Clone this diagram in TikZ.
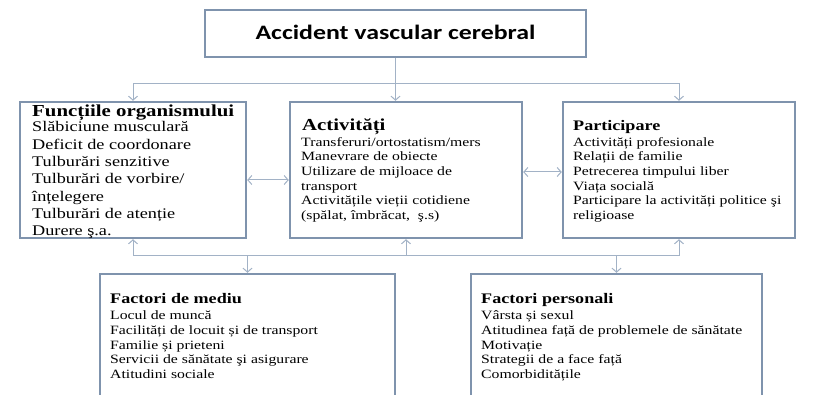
\documentclass[tikz,border=0pt]{standalone}
\usepackage{fontspec}
\setmainfont{Liberation Serif}[FakeStretch=1.24]
\newfontfamily\titlefont{Carlito}[FakeStretch=1.26]
\usetikzlibrary{arrows.meta}
\definecolor{boxc}{HTML}{7F93AD}
\definecolor{linec}{HTML}{A2B2C6}
\begin{document}
\begin{tikzpicture}[x=1pt,y=-1pt,
  box/.style={draw=boxc, line width=2.4pt, fill=white, inner sep=0pt},
  conn/.style={draw=linec, line width=1pt, -{Straight Barb[length=4pt,width=9pt]}},
  plain/.style={draw=linec, line width=1pt},
  conntwo/.style={draw=linec, line width=1pt, {Straight Barb[length=4pt,width=9pt]}-{Straight Barb[length=4pt,width=9pt]}},
  hdbig/.style={anchor=base west, inner sep=0pt, font=\fontsize{16.8}{20}\selectfont\bfseries},
  hdsmall/.style={anchor=base west, inner sep=0pt, font=\fontsize{14.6}{17}\selectfont\bfseries},
  bodybig/.style={anchor=north west, inner sep=0pt, align=left, font=\fontsize{14.7}{17.33}\selectfont},
  body/.style={anchor=north west, inner sep=0pt, align=left, font=\fontsize{12.7}{14.7}\selectfont}
]
\useasboundingbox (0,0) rectangle (824,395);
\clip (0,0) rectangle (824,395);
\fill[white] (0,0) rectangle (824,395);

% boxes
\node[box, minimum width=381pt, minimum height=47pt] (top) at (395.5,33.5) {};
\node[box, minimum width=226pt, minimum height=136pt] (fo) at (133,170) {};
\node[box, minimum width=232pt, minimum height=136pt] (act) at (406,170) {};
\node[box, minimum width=232pt, minimum height=136pt] (par) at (679,170) {};
\node[box, minimum width=295pt, minimum height=150pt] (med) at (247.5,349) {};
\node[box, minimum width=291pt, minimum height=150pt] (pers) at (616.5,349) {};

% title
\node[anchor=base, inner sep=0pt, font=\titlefont\bfseries\fontsize{20.5}{24}\selectfont] (title) at (395.5,40) {Accident vascular cerebral};

% Functiile
\node[hdbig] (foh) at (32,116.5) {Funcțiile organismului};
\node[bodybig] (fob) at (32,119.4) {\strut Slăbiciune musculară\\Deficit de coordonare\\Tulburări senzitive\\Tulburări de vorbire/\\înțelegere\\Tulburări de atenție\\Durere ş.a.};

% Activitati
\node[hdbig] (acth) at (302,131) {Activități};
\node[body] (actb) at (301,135.7) {\strut Transferuri/ortostatism/mers\\Manevrare de obiecte\\Utilizare de mijloace de\\transport\\Activitățile vieții cotidiene\\(spălat, îmbrăcat,\ \ ş.s)};

% Participare
\node[hdsmall] (parh) at (573,130.5) {Participare};
\node[body] (parb) at (573,135.7) {\strut Activități profesionale\\Relații de familie\\Petrecerea timpului liber\\Viața socială\\Participare la activități politice şi\\religioase};

% Factori de mediu
\node[hdsmall] (medh) at (110,303.5) {Factori de mediu};
\node[body] (medb) at (110,309.2) {\strut Locul de muncă\\Facilități de locuit și de transport\\Familie și prieteni\\Servicii de sănătate şi asigurare\\Atitudini sociale};

% Factori personali
\node[hdsmall] (persh) at (481,303.5) {Factori personali};
\node[body] (persb) at (481,309.2) {\strut Vârsta și sexul\\Atitudinea față de problemele de sănătate\\Motivație\\Strategii de a face față\\Comorbiditățile};

% top connectors
\coordinate (j1) at (395.5,84);
\draw[plain] (top.south) -- (j1);
\draw[conn] (j1) -| (fo.north);
\draw[conn] (j1) -| (par.north);
\draw[conn] (j1) -- (j1 |- act.north);

% middle double arrows
\draw[conntwo] (fo.east |- 0,180) -- (act.west |- 0,180);
\draw[conntwo] (act.east |- 0,172) -- (par.west |- 0,172);

% bottom connectors
\coordinate (j2) at (406,256);
\draw[conn] (j2) -| (fo.south);
\draw[conn] (j2) -| (par.south);
\draw[conn] (j2) -- (act.south);
\draw[conn] (j2) -| (med.north);
\draw[conn] (j2) -| (pers.north);
\end{tikzpicture}
\end{document}
